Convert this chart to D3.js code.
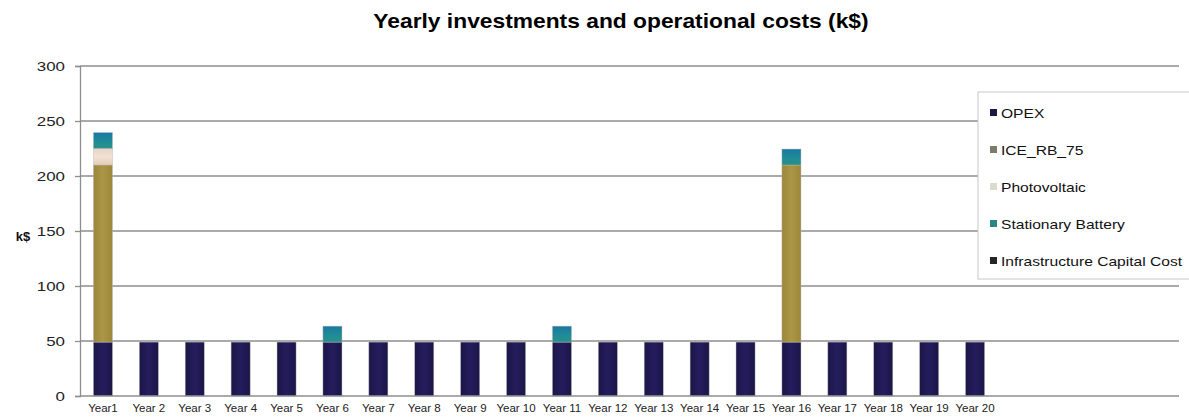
<!DOCTYPE html>
<html>
<head>
<meta charset="utf-8">
<script src="https://cdn.jsdelivr.net/npm/d3@7/dist/d3.min.js"></script>
<style>
  html, body { margin: 0; padding: 0; background: #fff; }
  svg { display: block; font-family: "Liberation Sans", Arial, sans-serif; }
</style>
</head>
<body>
<svg id="chart" width="1189" height="420"></svg>
<script>
// Yearly cost breakdown (k$)
const years = ["Year1", "Year 2", "Year 3", "Year 4", "Year 5", "Year 6", "Year 7", "Year 8", "Year 9", "Year 10",
               "Year 11", "Year 12", "Year 13", "Year 14", "Year 15", "Year 16", "Year 17", "Year 18", "Year 19", "Year 20"];
const opex        = [49, 49, 49, 49, 49, 49, 49, 49, 49, 49, 49, 49, 49, 49, 49, 49, 49, 49, 49, 49];
const iceRb75     = [161, 0, 0, 0, 0, 0, 0, 0, 0, 0, 0, 0, 0, 0, 0, 161, 0, 0, 0, 0];
const photovoltaic = [15, 0, 0, 0, 0, 0, 0, 0, 0, 0, 0, 0, 0, 0, 0, 0, 0, 0, 0, 0];
const battery     = [14.5, 0, 0, 0, 0, 14.5, 0, 0, 0, 0, 14.5, 0, 0, 0, 0, 14.5, 0, 0, 0, 0];
const infraCapex  = [0, 0, 0, 0, 0, 0, 0, 0, 0, 0, 0, 0, 0, 0, 0, 0, 0, 0, 0, 0];
const seriesNames = ["OPEX", "ICE_RB_75", "Photovoltaic", "Stationary Battery", "Infrastructure Capital Cost"];
const yTicks = [0, 50, 100, 150, 200, 250, 300];

const seriesValues = [opex, iceRb75, photovoltaic, battery, infraCapex];
const rows = years.map((y, i) => {
  const r = { year: y };
  seriesNames.forEach((s, k) => { r[s] = seriesValues[k][i]; });
  return r;
});

const barFill = {
  "OPEX": "url(#gOpex)",
  "ICE_RB_75": "url(#gIce)",
  "Photovoltaic": "url(#gPv)",
  "Stationary Battery": "url(#gBat)",
  "Infrastructure Capital Cost": "#222222"
};
const legendSwatch = {
  "OPEX": "#1b1a42",
  "ICE_RB_75": "#7b7b6a",
  "Photovoltaic": "#d9dccd",
  "Stationary Battery": "#2b8585",
  "Infrastructure Capital Cost": "#262626"
};

const svg = d3.select("#chart");
const plotLeft = 80, plotRight = 1179, plotTop = 66, plotBottom = 396;

// gradients for the bar fills
const defs = svg.append("defs");
function hGrad(id, stops) {
  const g = defs.append("linearGradient").attr("id", id).attr("x1", "0").attr("x2", "1").attr("y1", "0").attr("y2", "0");
  stops.forEach(([o, c]) => g.append("stop").attr("offset", o).attr("stop-color", c));
}
function vGrad(id, stops) {
  const g = defs.append("linearGradient").attr("id", id).attr("x1", "0").attr("x2", "0").attr("y1", "0").attr("y2", "1");
  stops.forEach(([o, c]) => g.append("stop").attr("offset", o).attr("stop-color", c));
}
hGrad("gOpex", [["0", "#1b1646"], ["0.5", "#241d5e"], ["1", "#1b1646"]]);
hGrad("gIce", [["0", "#9c873a"], ["0.5", "#ab9646"], ["1", "#9c873a"]]);
vGrad("gPv", [["0", "#e9d3c4"], ["0.5", "#f1e2d4"], ["1", "#e3cdb5"]]);
vGrad("gBat", [["0", "#1a78a0"], ["0.6", "#1f8c96"], ["1", "#2a8f88"]]);

const x = d3.scaleBand().domain(years).range([plotLeft, 998]).paddingInner(0.585).paddingOuter(0.2925);
const y = d3.scaleLinear().domain([0, 300]).range([plotBottom, plotTop]);

// horizontal gridlines
svg.append("g").selectAll("line").data(yTicks.filter(t => t > 0)).join("line")
  .attr("x1", plotLeft).attr("x2", plotRight)
  .attr("y1", d => y(d)).attr("y2", d => y(d))
  .attr("stroke", "#8e8e8e").attr("stroke-width", 1.3);

// stacked bars
const stacked = d3.stack().keys(seriesNames)(rows);
svg.append("g").selectAll("g").data(stacked).join("g")
  .attr("fill", d => barFill[d.key])
  .selectAll("rect").data(d => d.filter(p => p[1] - p[0] > 0)).join("rect")
  .attr("x", d => x(d.data.year))
  .attr("width", x.bandwidth())
  .attr("y", d => y(d[1]))
  .attr("height", d => y(d[0]) - y(d[1]))
  .attr("stroke", "#b8b8c0").attr("stroke-width", 0.6).attr("stroke-opacity", 0.7);

// y axis (labels drawn slightly wide)
const yAxis = d3.axisLeft(y).tickValues(yTicks).tickSize(5).tickPadding(8);
const ya = svg.append("g").attr("transform", `translate(${plotLeft},0)`).call(yAxis);
ya.select(".domain").attr("stroke", "#8e8e8e").attr("stroke-width", 1.3);
ya.selectAll(".tick line").attr("stroke", "#8e8e8e").attr("stroke-width", 1.3);
ya.selectAll(".tick text").attr("font-size", 13.5).attr("fill", "#222")
  .attr("font-family", "'Liberation Sans', Arial, sans-serif")
  .attr("x", 0).attr("transform", "translate(-15,0) scale(1.25,1)");

// x axis
const xAxis = d3.axisBottom(x).tickSize(0).tickPadding(8);
const xa = svg.append("g").attr("transform", `translate(0,${plotBottom})`).call(xAxis);
xa.select(".domain").remove();
xa.selectAll(".tick text").attr("font-size", 11.5).attr("fill", "#222")
  .attr("font-family", "'Liberation Sans', Arial, sans-serif");
svg.append("line").attr("x1", plotLeft).attr("x2", plotRight).attr("y1", plotBottom).attr("y2", plotBottom)
  .attr("stroke", "#8e8e8e").attr("stroke-width", 1.5);

// y axis title
svg.append("text").attr("x", 23).attr("y", 241).attr("text-anchor", "middle")
  .attr("font-size", 13).attr("font-weight", "bold").attr("fill", "#111").text("k$");

// chart title
svg.append("text").attr("transform", "translate(621,28) scale(1.14,1)").attr("text-anchor", "middle")
  .attr("font-size", 20).attr("font-weight", "bold").attr("fill", "#000")
  .text("Yearly investments and operational costs (k$)");

// legend
const lg = svg.append("g").attr("transform", "translate(978,92)");
lg.append("rect").attr("width", 214).attr("height", 187)
  .attr("fill", "#fff").attr("stroke", "#c8c8c8").attr("stroke-width", 1);
const items = lg.selectAll("g.item").data(seriesNames).join("g").attr("class", "item")
  .attr("transform", (d, i) => `translate(0,${21 + i * 37})`);
items.append("rect").attr("x", 12).attr("y", -4).attr("width", 7).attr("height", 7)
  .attr("fill", d => legendSwatch[d]);
items.append("text").attr("transform", "translate(23,5) scale(1.2,1)")
  .attr("font-size", 13).attr("fill", "#111").text(d => d);
</script>
</body>
</html>
